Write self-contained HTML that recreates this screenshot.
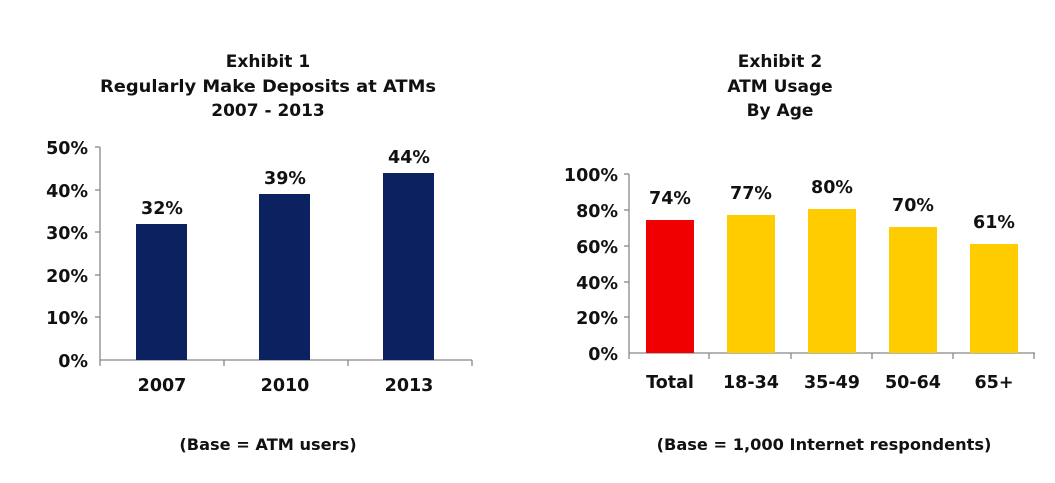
<!DOCTYPE html>
<html><head><style>body{margin:0;background:#fff}svg{display:block}text{font-family:"DejaVu Sans","Liberation Sans",sans-serif;font-weight:bold;fill:#111}</style></head>
<body>
<svg width="1055" height="483" viewBox="0 0 1055 483">
<g font-size="17" text-anchor="middle">
<text x="268" y="67">Exhibit 1</text>
<text x="268" y="92" textLength="336" lengthAdjust="spacingAndGlyphs">Regularly Make Deposits at ATMs</text>
<text x="268" y="116">2007 - 2013</text>
<text x="780" y="67">Exhibit 2</text>
<text x="780" y="92">ATM Usage</text>
<text x="780" y="116">By Age</text>
</g>
<!-- chart 1 -->
<g stroke="#888" stroke-width="1.3" fill="none">
<line x1="100" y1="147" x2="100" y2="360"/>
<line x1="100" y1="360" x2="472" y2="360"/>
<line x1="95" y1="147" x2="100" y2="147"/><line x1="95" y1="190" x2="100" y2="190"/><line x1="95" y1="232" x2="100" y2="232"/><line x1="95" y1="275" x2="100" y2="275"/><line x1="95" y1="317" x2="100" y2="317"/>
<line x1="100" y1="360" x2="100" y2="366"/><line x1="224" y1="360" x2="224" y2="366"/><line x1="348" y1="360" x2="348" y2="366"/><line x1="472" y1="360" x2="472" y2="366"/>
</g>
<g fill="#0c2160">
<rect x="136" y="224" width="51" height="136"/>
<rect x="259" y="194" width="51" height="166"/>
<rect x="383" y="173" width="51" height="187"/>
</g>
<g font-size="17.5" text-anchor="end">
<text x="88" y="154">50%</text><text x="88" y="197">40%</text><text x="88" y="239">30%</text><text x="88" y="282">20%</text><text x="88" y="324">10%</text><text x="88" y="367">0%</text>
</g>
<g font-size="17.5" text-anchor="middle">
<text x="162" y="214">32%</text><text x="285" y="184">39%</text><text x="409" y="163">44%</text>
<text x="162" y="391">2007</text><text x="285" y="391">2010</text><text x="409" y="391">2013</text>
<text x="268" y="450" font-size="16.2">(Base = ATM users)</text>
</g>
<!-- chart 2 -->
<g stroke="#888" stroke-width="1.3" fill="none">
<line x1="629" y1="174" x2="629" y2="353"/>
<line x1="629" y1="353" x2="1035" y2="353"/>
<line x1="624" y1="174" x2="629" y2="174"/><line x1="624" y1="210" x2="629" y2="210"/><line x1="624" y1="246" x2="629" y2="246"/><line x1="624" y1="282" x2="629" y2="282"/><line x1="624" y1="317" x2="629" y2="317"/>
<line x1="629" y1="353" x2="629" y2="359"/><line x1="709" y1="353" x2="709" y2="359"/><line x1="791" y1="353" x2="791" y2="359"/><line x1="872" y1="353" x2="872" y2="359"/><line x1="953" y1="353" x2="953" y2="359"/><line x1="1034" y1="353" x2="1034" y2="359"/>
</g>
<rect x="646" y="220" width="48" height="133" fill="#f00000"/>
<g fill="#ffcc00">
<rect x="727" y="215" width="48" height="138"/>
<rect x="808" y="209" width="48" height="144"/>
<rect x="889" y="227" width="48" height="126"/>
<rect x="970" y="244" width="48" height="109"/>
</g>
<g font-size="17.5" text-anchor="end">
<text x="618" y="181">100%</text><text x="618" y="217">80%</text><text x="618" y="253">60%</text><text x="618" y="289">40%</text><text x="618" y="324">20%</text><text x="618" y="360">0%</text>
</g>
<g font-size="17.5" text-anchor="middle">
<text x="670" y="204">74%</text><text x="751" y="199">77%</text><text x="832" y="193">80%</text><text x="913" y="211">70%</text><text x="994" y="228">61%</text>
<text x="670" y="388">Total</text><text x="751" y="388">18-34</text><text x="832" y="388">35-49</text><text x="913" y="388">50-64</text><text x="994" y="388">65+</text>
<text x="824" y="450" font-size="16.2">(Base = 1,000 Internet respondents)</text>
</g>
</svg>
</body></html>
